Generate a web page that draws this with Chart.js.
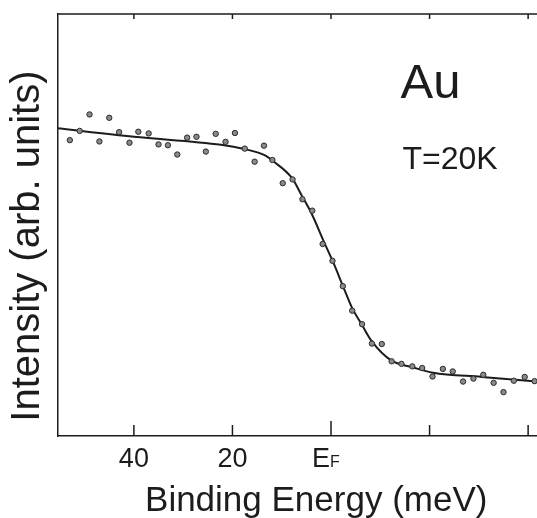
<!DOCTYPE html>
<html>
<head>
<meta charset="utf-8">
<script src="https://cdn.jsdelivr.net/npm/chart.js@4.4.1/dist/chart.umd.min.js"></script>
<style>
  body { margin: 0; background: #fff; }
</style>
</head>
<body>
<canvas id="fermiChart" width="537" height="518"></canvas>
<script>
// measured points, binding energy (meV) and intensity (arb., 0..100)
var pointEnergy = [53.0, 51.0, 49.0, 47.0, 45.0, 43.0, 40.9, 39.1, 37.0, 35.0, 33.1, 31.2, 29.2, 27.3, 25.4,
	23.4, 21.4, 19.5, 17.5, 15.5, 13.6, 11.9, 9.8, 7.8, 5.8, 3.8, 1.7, -0.3, -2.4, -4.3, -6.3, -8.3, -10.3,
	-12.3, -14.3, -16.5, -18.5, -20.6, -22.7, -24.7, -26.8, -28.9, -30.9, -33.0, -35.0, -37.1, -39.3, -41.3];
var pointIntensity = [70.1, 72.3, 76.2, 69.8, 75.4, 72.0, 69.5, 72.1, 71.7, 69.1, 68.9, 66.7, 70.7, 70.9, 67.4,
	71.6, 69.7, 71.8, 68.1, 65.0, 68.8, 65.4, 59.9, 60.8, 56.1, 53.4, 45.5, 41.5, 35.5, 29.7, 26.5, 21.9, 21.8,
	17.7, 17.1, 16.5, 16.1, 14.1, 15.9, 15.3, 12.9, 13.6, 14.5, 12.6, 10.4, 13.1, 14.0, 13.0];

// fitted curve
var fitEnergy = [55.4, 40, 22.3, 17.6, 13.6, 11.6, 7.9, 5.9, 3.9, 1.5, -0.5, -2.4, -4.3, -6.3, -8.3, -12.2, -16.5, -20.7, -30.6, -41.8];
var fitIntensity = [72.9, 70.9, 69.0, 68.0, 66.6, 65.0, 61.1, 56.9, 52.6, 46.2, 41.0, 35.6, 30.3, 26.3, 22.4, 17.9, 16.3, 15.0, 14.0, 12.9];

var tickValues = [40, 20, 0, -20, -40];
var tickLabels = ['40', '20', 'E', '', ''];

var ink = '#1c1c1c';
var family = '"Liberation Sans", Arial, sans-serif';

var frame = {
	id: 'frame',
	afterDraw: function(chart) {
		var ctx = chart.ctx, a = chart.chartArea;
		var x = chart.scales.x, y = chart.scales.y;
		ctx.save();
		ctx.strokeStyle = ink;
		ctx.lineWidth = 1.5;
		ctx.beginPath();
		ctx.moveTo(a.left, a.top);
		ctx.lineTo(a.right, a.top);
		tickValues.forEach(function(v) {
			var px = x.getPixelForValue(v);
			ctx.moveTo(px, a.bottom);
			ctx.lineTo(px, a.bottom - (v === 0 ? 15 : 11));
			ctx.moveTo(px, a.top);
			ctx.lineTo(px, a.top + 5);
		});
		ctx.stroke();

		ctx.fillStyle = ink;
		ctx.textBaseline = 'alphabetic';
		// tick labels
		ctx.font = '27px ' + family;
		tickValues.forEach(function(v, i) {
			var px = x.getPixelForValue(v);
			if (tickLabels[i] === 'E') {
				ctx.textAlign = 'right';
				ctx.font = '27px ' + family;
				ctx.fillText('E', px - 1, a.bottom + 31);
				ctx.textAlign = 'left';
				ctx.font = '16px ' + family;
				ctx.fillText('F', px - 1, a.bottom + 31);
				ctx.font = '27px ' + family;
			} else if (tickLabels[i]) {
				ctx.textAlign = 'center';
				ctx.fillText(tickLabels[i], px, a.bottom + 31);
			}
		});

		// axis titles
		ctx.textAlign = 'center';
		ctx.font = '35px ' + family;
		ctx.fillText('Binding Energy (meV)', x.getPixelForValue(3), a.bottom + 75);
		ctx.save();
		ctx.translate(a.left - 30, y.getPixelForValue(45));
		ctx.rotate(-Math.PI / 2);
		ctx.textBaseline = 'middle';
		ctx.font = '40px ' + family;
		ctx.fillText('Intensity (arb. units)', 0, 0);
		ctx.restore();

		// annotations
		ctx.textAlign = 'left';
		ctx.font = '49px ' + family;
		ctx.fillText('Au', x.getPixelForValue(-14.1), y.getPixelForValue(80.1));
		ctx.font = '32px ' + family;
		ctx.fillText('T=20K', x.getPixelForValue(-14.5), y.getPixelForValue(63.3));
		ctx.restore();
	}
};

var ctx = document.getElementById('fermiChart').getContext('2d');
var fermiChart = new Chart(ctx, {
	type: 'scatter',
	data: {
		datasets: [{
			label: 'fit',
			type: 'line',
			data: fitEnergy.map(function(e, i) { return {x: e, y: fitIntensity[i]}; }),
			borderColor: ink,
			borderWidth: 2,
			pointRadius: 0,
			cubicInterpolationMode: 'monotone',
			fill: false,
			order: 2
		},
		{
			label: 'data',
			data: pointEnergy.map(function(e, i) { return {x: e, y: pointIntensity[i]}; }),
			backgroundColor: '#8a8a8a',
			borderColor: '#2a2a2a',
			borderWidth: 1,
			pointRadius: 2.7,
			order: 1
		}]
	},
	options: {
		responsive: false,
		animation: false,
		layout: { autoPadding: false, padding: { left: 58, top: 14, right: 0, bottom: 82 } },
		plugins: { legend: { display: false }, tooltip: { enabled: false } },
		scales: {
			x: {
				type: 'linear',
				reverse: true,
				min: -41.8,
				max: 55.4,
				ticks: { display: false },
				grid: { display: false, drawTicks: false },
				border: { display: true, color: ink, width: 1.5 }
			},
			y: {
				min: 0,
				max: 100,
				ticks: { display: false },
				grid: { display: false, drawTicks: false },
				border: { display: true, color: ink, width: 1.5 }
			}
		}
	},
	plugins: [frame]
});
</script>
</body>
</html>
